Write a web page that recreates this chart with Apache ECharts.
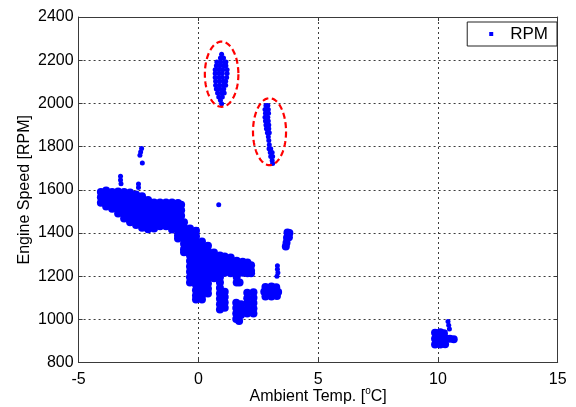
<!DOCTYPE html>
<html>
<head>
<meta charset="utf-8">
<script src="https://cdn.jsdelivr.net/npm/echarts@6/dist/echarts.min.js"></script>
<style>
  html, body { margin: 0; padding: 0; background: #ffffff; }
  #chart { width: 576px; height: 407px; }
</style>
</head>
<body>
<div id="chart"></div>
<script>
// Axis ticks
const xTicks = [-5, 0, 5, 10, 15];
const yTicks = [800, 1000, 1200, 1400, 1600, 1800, 2000, 2200, 2400];

// Engine speed [RPM] vs ambient temperature [°C] — dense operating regions
const bandUpper = [
  [-4.07,1590],[-4.07,1565],[-4.07,1540],
  [-3.85,1597],[-3.85,1572],[-3.85,1547],[-3.85,1522],
  [-3.6,1590],[-3.6,1565],[-3.6,1540],[-3.6,1512],
  [-3.35,1592],[-3.35,1567],[-3.35,1542],[-3.35,1517],[-3.35,1490],
  [-3.1,1590],[-3.1,1565],[-3.1,1540],[-3.1,1515],[-3.1,1490],[-3.1,1467],
  [-2.85,1587],[-2.85,1562],[-2.85,1537],[-2.85,1512],[-2.85,1487],[-2.85,1462],[-2.85,1450],
  [-2.6,1578],[-2.6,1553],[-2.6,1528],[-2.6,1503],[-2.6,1478],[-2.6,1453],[-2.6,1437],
  [-2.35,1570],[-2.35,1545],[-2.35,1520],[-2.35,1495],[-2.35,1470],[-2.35,1445],[-2.35,1424],
  [-2.1,1553],[-2.1,1528],[-2.1,1503],[-2.1,1478],[-2.1,1453],[-2.1,1428],[-2.1,1417],
  [-1.85,1541],[-1.85,1516],[-1.85,1491],[-1.85,1466],[-1.85,1441],[-1.85,1421],
  [-1.6,1541],[-1.6,1516],[-1.6,1491],[-1.6,1466],[-1.6,1441],[-1.6,1431],
  [-1.35,1541],[-1.35,1516],[-1.35,1491],[-1.35,1466],[-1.35,1441],[-1.35,1431],
  [-1.1,1541],[-1.1,1516],[-1.1,1491],[-1.1,1466],[-1.1,1441],[-1.1,1416],
  [-0.85,1539],[-0.85,1514],[-0.85,1489],[-0.85,1464],[-0.85,1439],[-0.85,1414],[-0.85,1389],[-0.85,1374],
  [-0.72,1530],[-0.72,1505],[-0.72,1480],
  [-0.6,1450],[-0.6,1425],[-0.6,1400],[-0.6,1375],[-0.6,1350],[-0.6,1325],[-0.6,1310]
];

const bandLower = [
  [-0.35,1420],[-0.35,1395],[-0.35,1370],[-0.35,1345],[-0.35,1320],[-0.35,1295],[-0.35,1270],[-0.35,1245],[-0.35,1220],[-0.35,1195],[-0.35,1170],
  [-0.1,1410],[-0.1,1385],[-0.1,1360],[-0.1,1335],[-0.1,1310],[-0.1,1285],[-0.1,1260],[-0.1,1235],[-0.1,1210],[-0.1,1185],[-0.1,1160],[-0.1,1135],[-0.1,1110],[-0.1,1092],
  [0.15,1360],[0.15,1335],[0.15,1310],[0.15,1285],[0.15,1260],[0.15,1235],[0.15,1210],[0.15,1185],[0.15,1160],[0.15,1135],[0.15,1110],[0.15,1092],
  [0.4,1341],[0.4,1316],[0.4,1291],[0.4,1266],[0.4,1241],[0.4,1216],[0.4,1191],[0.4,1166],[0.4,1141],[0.4,1120],
  [0.65,1309],[0.65,1284],[0.65,1259],[0.65,1234],[0.65,1209],[0.65,1190],
  [0.9,1295],[0.9,1270],[0.9,1245],[0.9,1220],[0.9,1195],[0.9,1170],[0.9,1145],[0.9,1120],[0.9,1095],[0.9,1070],[0.9,1046],
  [1.1,1291],[1.1,1266],[1.1,1241],[1.1,1216],[1.1,1128],[1.1,1103],[1.1,1078],[1.1,1053],
  [1.35,1286],[1.35,1261],[1.35,1236],[1.35,1213],
  [1.6,1271],[1.6,1246],[1.6,1221],[1.6,1196],[1.6,1171],
  [1.85,1266],[1.85,1241],[1.85,1216],[1.72,1170],
  [2.05,1263],[2.05,1238],[2.05,1213],
  [2.2,1250],[2.2,1225],[2.2,1213]
];

const lowLobes = [
  [1.58,1077],[1.58,1052],[1.58,1027],[1.58,1002],[1.78,1070],[1.78,1045],[1.78,1020],[1.7,992],
  [2.04,1123],[2.04,1098],[2.04,1073],[2.04,1048],[2.04,1027],
  [2.3,1125],[2.3,1100],[2.3,1075],[2.3,1050],[2.3,1027]
];

const patchNear3 = [
  [2.8,1150],[3.05,1152],[3.25,1148],
  [2.75,1128],[3.0,1128],[3.2,1128],[3.33,1126],
  [2.8,1106],[3.05,1106],[3.28,1108]
];

const patchNear37 = [
  [3.72,1402],[3.8,1400],[3.7,1378],[3.78,1380],[3.68,1355],[3.65,1337]
];

const patchNear10 = [
  [9.88,938],[10.1,940],[10.25,936],
  [9.88,910],[10.1,910],[10.32,912],[10.5,910],[10.66,908],
  [9.88,883],[10.1,883],[10.3,885]
];

// Sparse high-speed groups and isolated samples
const groupHigh = [
  [0.97,2228],
  [0.92,2210],[1.05,2210],
  [0.77,2192],[0.93,2192],[1.09,2192],[1.15,2192],
  [0.75,2174],[0.9,2174],[1.06,2174],[1.15,2174],
  [0.7,2156],[0.86,2156],[1.02,2156],[1.2,2156],
  [0.7,2138],[0.86,2138],[1.0,2138],[1.2,2138],
  [0.7,2120],[0.86,2120],[1.0,2120],[1.18,2120],
  [0.72,2102],[0.88,2102],[1.04,2102],[1.14,2102],
  [0.72,2084],[0.88,2084],[1.04,2084],[1.14,2084],
  [0.75,2066],[0.9,2066],[1.06,2066],
  [0.8,2048],[0.96,2048],[1.08,2048],
  [0.85,2030],[1.0,2030],
  [0.92,2014],
  [0.97,1998]
];

const groupMid = [
  [2.82,1990],[2.9,1990],
  [2.78,1972],[2.92,1972],
  [2.8,1954],[2.93,1954],
  [2.78,1936],[2.9,1936],
  [2.8,1918],[2.92,1918],
  [2.82,1900],[2.94,1900],
  [2.84,1882],[2.94,1882],
  [2.88,1864],[2.96,1864],
  [2.92,1846],
  [2.94,1828],
  [2.96,1808],
  [2.95,1790],[3.02,1790],
  [3.0,1772],[3.08,1772],
  [3.02,1754],[3.1,1754],
  [3.08,1736],
  [3.1,1722]
];

const strays = [
  [-2.37,1791],[-2.41,1775],[-2.44,1760],[-2.34,1724],
  [-3.25,1662],[-3.25,1645],[-3.23,1628],
  [-2.5,1627],[-2.5,1610],
  [0.85,1530],
  [3.3,1248],[3.3,1232],[3.32,1216],[3.28,1200],
  [10.42,990],[10.45,972],[10.48,955]
];

// Dashed rings around the high-speed groups: [centre x, centre y, radius x, radius y]
const rings = [
  [0.97, 2135, 0.70, 151],
  [2.97, 1869, 0.69, 155]
];

const FONT = '"Liberation Sans", Arial, Helvetica, sans-serif';
const AXIS_COLOR = '#3a3a3a';
const GRID_LINE = { show: true, lineStyle: { color: '#3c3c3c', width: 1, type: [2, 3] } };
const plainNumber = function (v) { return String(v); };

const chart = echarts.init(document.getElementById('chart'), null, { renderer: 'canvas' });

const baseX = {
  type: 'value',
  min: xTicks[0],
  max: xTicks[xTicks.length - 1],
  interval: xTicks[1] - xTicks[0]
};
const baseY = {
  type: 'value',
  min: yTicks[0],
  max: yTicks[yTicks.length - 1],
  interval: yTicks[1] - yTicks[0]
};

const option = {
  animation: false,
  backgroundColor: '#ffffff',
  textStyle: { fontFamily: FONT },
  grid: { left: 78.6, right: 18.3, top: 17, bottom: 44.5, containLabel: false, outerBoundsMode: 'none' },
  legend: {
    data: ['RPM'],
    right: 19,
    top: 22,
    orient: 'horizontal',
    backgroundColor: '#ffffff',
    borderColor: '#222222',
    borderWidth: 1,
    borderRadius: 0,
    padding: [3, 9, 3, 22],
    itemWidth: 4,
    itemHeight: 4,
    icon: 'rect',
    selectedMode: false,
    textStyle: { fontFamily: FONT, fontSize: 17, color: '#000', lineHeight: 18, padding: [0, 0, 0, 12] }
  },
  xAxis: [
    Object.assign({}, baseX, {
      position: 'bottom',
      name: 'Ambient Temp. [{sup|o}C]',
      nameLocation: 'middle',
      nameGap: 24,
      nameMoveOverlap: false,
      nameTextStyle: {
        fontFamily: FONT, fontSize: 16, color: '#000', lineHeight: 20,
        rich: { sup: { fontFamily: FONT, fontSize: 10, color: '#000', verticalAlign: 'top', lineHeight: 12 } }
      },
      axisLine: { show: true, onZero: false, lineStyle: { color: AXIS_COLOR, width: 1 } },
      axisTick: { show: true, inside: true, length: 4, lineStyle: { color: AXIS_COLOR } },
      axisLabel: { show: true, margin: 9, fontFamily: FONT, fontSize: 16, color: '#000', formatter: plainNumber },
      splitLine: GRID_LINE
    }),
    Object.assign({}, baseX, {
      position: 'top',
      axisLine: { show: true, onZero: false, lineStyle: { color: AXIS_COLOR, width: 1 } },
      axisTick: { show: true, inside: true, length: 4, lineStyle: { color: AXIS_COLOR } },
      axisLabel: { show: false },
      splitLine: { show: false }
    })
  ],
  yAxis: [
    Object.assign({}, baseY, {
      position: 'left',
      name: 'Engine Speed [RPM]',
      nameLocation: 'middle',
      nameGap: 46,
      nameMoveOverlap: false,
      nameRotate: 90,
      nameTextStyle: { fontFamily: FONT, fontSize: 16, color: '#000' },
      axisLine: { show: true, onZero: false, lineStyle: { color: AXIS_COLOR, width: 1 } },
      axisTick: { show: true, inside: true, length: 4, lineStyle: { color: AXIS_COLOR } },
      axisLabel: { show: true, margin: 5, fontFamily: FONT, fontSize: 16, color: '#000', formatter: plainNumber },
      splitLine: GRID_LINE
    }),
    Object.assign({}, baseY, {
      position: 'right',
      axisLine: { show: true, onZero: false, lineStyle: { color: AXIS_COLOR, width: 1 } },
      axisTick: { show: true, inside: true, length: 4, lineStyle: { color: AXIS_COLOR } },
      axisLabel: { show: false },
      splitLine: { show: false }
    })
  ],
  series: [
    {
      name: 'RPM',
      type: 'scatter',
      xAxisIndex: 0,
      yAxisIndex: 0,
      symbol: 'circle',
      symbolSize: 8,
      itemStyle: { color: '#0000ff', opacity: 1 },
      emphasis: { disabled: true },
      silent: true,
      data: [].concat(bandUpper, bandLower, lowLobes, patchNear3, patchNear37, patchNear10),
      z: 2
    },
    {
      name: 'RPM',
      type: 'scatter',
      xAxisIndex: 0,
      yAxisIndex: 0,
      symbol: 'circle',
      symbolSize: 5,
      itemStyle: { color: '#0000ff', opacity: 1 },
      emphasis: { disabled: true },
      silent: true,
      data: [].concat(groupHigh, groupMid, strays),
      z: 2
    },
    {
      name: 'rings',
      type: 'custom',
      xAxisIndex: 0,
      yAxisIndex: 0,
      silent: true,
      z: 5,
      data: rings,
      renderItem: function (params, api) {
        const c = api.coord([api.value(0), api.value(1)]);
        const s = api.size([api.value(2), api.value(3)]);
        const pts = [];
        const n = 96;
        for (let i = 0; i < n; i++) {
          const t = (i / n) * Math.PI * 2;
          pts.push([c[0] + s[0] * Math.cos(t), c[1] + s[1] * Math.sin(t)]);
        }
        return {
          type: 'polygon',
          shape: { points: pts },
          style: { fill: 'none', stroke: '#ff0000', lineWidth: 2.2, lineDash: [6, 3.5] }
        };
      }
    }
  ]
};

chart.setOption(option);
</script>
</body>
</html>
